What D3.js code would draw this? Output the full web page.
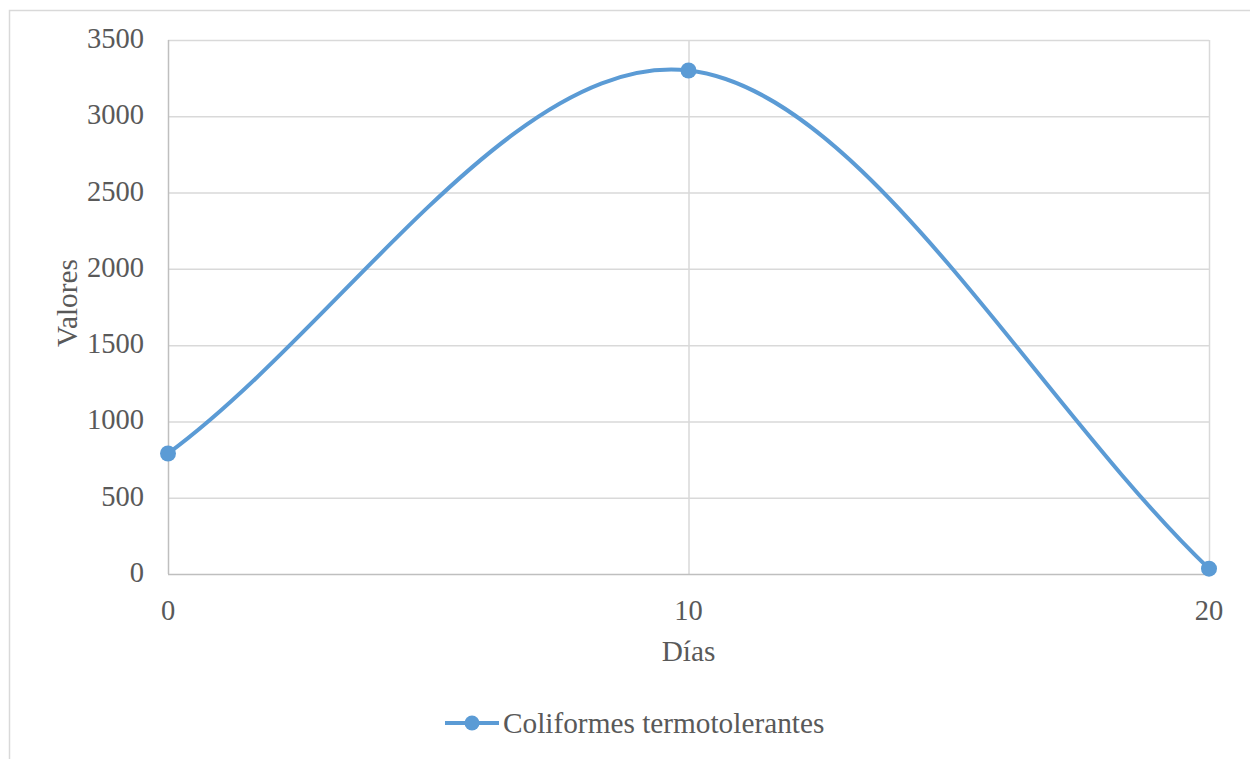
<!DOCTYPE html>
<html>
<head>
<meta charset="utf-8">
<script src="https://cdn.jsdelivr.net/npm/d3@7"></script>
<style>
  html, body { margin: 0; padding: 0; background: #fff; }
  svg { display: block; }
</style>
</head>
<body>
<svg id="chart" width="1250" height="759"></svg>
<script>
// Muestreo por día
const dias = [0, 10, 20];
const valores = [790, 3300, 35];
const yTicks = [0, 500, 1000, 1500, 2000, 2500, 3000, 3500];
const xTicks = [0, 10, 20];
const serieNombre = "Coliformes termotolerantes";

const FONT = "'Liberation Serif', 'Times New Roman', Times, 'DejaVu Serif', serif";
const TEXT = "#595959";
const color = "#5b9bd5";
const FS_TICK = 28.5;
const FS_TITLE = 29.3;

const svg = d3.select("#chart");

// chart frame
svg.append("rect")
  .attr("x", 9.5).attr("y", 10.5)
  .attr("width", 1260).attr("height", 760)
  .attr("fill", "#fff").attr("stroke", "#d9d9d9").attr("stroke-width", 1.5);

const plot = { left: 168, right: 1209, top: 40, bottom: 574 };

const x = d3.scaleLinear().domain([0, 20]).range([plot.left, plot.right]);
const y = d3.scaleLinear().domain([0, 3500]).range([plot.bottom, plot.top]);

function label(sel, size) {
  return sel.attr("font-family", FONT).attr("font-size", size).attr("fill", TEXT);
}

// horizontal gridlines
svg.append("g").selectAll("line").data(yTicks.filter(d => d > 0)).join("line")
  .attr("x1", plot.left).attr("x2", plot.right)
  .attr("y1", d => y(d) + 0.5).attr("y2", d => y(d) + 0.5)
  .attr("stroke", "#d9d9d9").attr("stroke-width", 1.5);

// vertical gridlines
svg.append("g").selectAll("line").data(xTicks.filter(d => d > 0)).join("line")
  .attr("x1", d => x(d) + 0.5).attr("x2", d => x(d) + 0.5)
  .attr("y1", plot.top).attr("y2", plot.bottom)
  .attr("stroke", "#d9d9d9").attr("stroke-width", 1.5);

// axis lines
svg.append("line")
  .attr("x1", plot.left).attr("x2", plot.right)
  .attr("y1", plot.bottom + 0.5).attr("y2", plot.bottom + 0.5)
  .attr("stroke", "#bfbfbf").attr("stroke-width", 1.5);
svg.append("line")
  .attr("x1", plot.left + 0.5).attr("x2", plot.left + 0.5)
  .attr("y1", plot.top).attr("y2", plot.bottom)
  .attr("stroke", "#bfbfbf").attr("stroke-width", 1.5);

// tick labels
svg.append("g").selectAll("text").data(yTicks).join("text")
  .call(label, FS_TICK)
  .attr("x", 144).attr("y", d => y(d) + 8)
  .attr("text-anchor", "end")
  .text(d => d);

svg.append("g").selectAll("text").data(xTicks).join("text")
  .call(label, FS_TICK)
  .attr("x", d => x(d)).attr("y", 620)
  .attr("text-anchor", "middle")
  .text(d => d);

// axis titles
svg.append("text").call(label, FS_TITLE)
  .attr("transform", "translate(77, 303) rotate(-90)")
  .attr("text-anchor", "middle")
  .text("Valores");
svg.append("text").call(label, FS_TITLE)
  .attr("x", x(10)).attr("y", 661)
  .attr("text-anchor", "middle")
  .text("Días");

// smoothed series line: cubic Bezier segments, interior tangents from
// neighbours (Catmull-Rom, 1/6), end tangents from reflected end points
const pts = dias.map((d, i) => [x(d), y(valores[i])]);
function smoothPath(p) {
  const n = p.length;
  const ext = [
    [2 * p[0][0] - p[1][0], 2 * p[0][1] - p[1][1]],
    ...p,
    [2 * p[n - 1][0] - p[n - 2][0], 2 * p[n - 1][1] - p[n - 2][1]]
  ];
  const path = d3.path();
  path.moveTo(p[0][0], p[0][1]);
  for (let i = 1; i < ext.length - 2; i++) {
    const p0 = ext[i - 1], p1 = ext[i], p2 = ext[i + 1], p3 = ext[i + 2];
    path.bezierCurveTo(
      p1[0] + (p2[0] - p0[0]) / 6, p1[1] + (p2[1] - p0[1]) / 6,
      p2[0] - (p3[0] - p1[0]) / 6, p2[1] - (p3[1] - p1[1]) / 6,
      p2[0], p2[1]);
  }
  return path.toString();
}
svg.append("path")
  .attr("d", smoothPath(pts))
  .attr("fill", "none").attr("stroke", color).attr("stroke-width", 4)
  .attr("stroke-linejoin", "round");

svg.append("g").selectAll("circle").data(pts).join("circle")
  .attr("cx", d => d[0]).attr("cy", d => d[1])
  .attr("r", 8).attr("fill", color);

// legend
const lg = svg.append("g").attr("transform", "translate(445, 723)");
lg.append("line").attr("x1", 0).attr("x2", 54).attr("y1", 0).attr("y2", 0)
  .attr("stroke", color).attr("stroke-width", 4);
lg.append("circle").attr("cx", 27).attr("cy", 0).attr("r", 7.5).attr("fill", color);
lg.append("text").call(label, FS_TITLE).attr("x", 58).attr("y", 10)
  .text(serieNombre);
</script>
</body>
</html>
